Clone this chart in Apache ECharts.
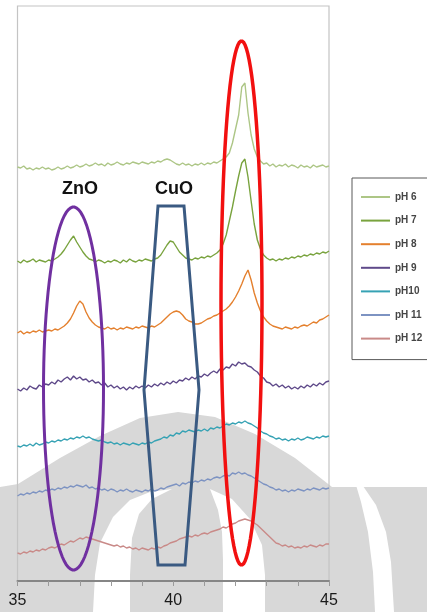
<!DOCTYPE html>
<html>
<head>
<meta charset="utf-8">
<script src="https://cdn.jsdelivr.net/npm/echarts@6/dist/echarts.min.js"></script>
<style>
  html, body { margin: 0; padding: 0; background: #fff; }
  #chart { width: 427px; height: 612px; }
</style>
</head>
<body>
<div id="chart"></div>
<script>
// 2-theta grid (degrees)
const twoTheta = [
  35.0, 35.1, 35.2, 35.3, 35.4, 35.5, 35.6, 35.7, 35.8, 35.9,
  36.0, 36.1, 36.2, 36.3, 36.4, 36.5, 36.6, 36.7, 36.8, 36.9,
  37.0, 37.1, 37.2, 37.3, 37.4, 37.5, 37.6, 37.7, 37.8, 37.9,
  38.0, 38.1, 38.2, 38.3, 38.4, 38.5, 38.6, 38.7, 38.8, 38.9,
  39.0, 39.1, 39.2, 39.3, 39.4, 39.5, 39.6, 39.7, 39.8, 39.9,
  40.0, 40.1, 40.2, 40.3, 40.4, 40.5, 40.6, 40.7, 40.8, 40.9,
  41.0, 41.1, 41.2, 41.3, 41.4, 41.5, 41.6, 41.7, 41.8, 41.9,
  42.0, 42.1, 42.2, 42.3, 42.4, 42.5, 42.6, 42.7, 42.8, 42.9,
  43.0, 43.1, 43.2, 43.3, 43.4, 43.5, 43.6, 43.7, 43.8, 43.9,
  44.0, 44.1, 44.2, 44.3, 44.4, 44.5, 44.6, 44.7, 44.8, 44.9,
  45.0
];

const seriesNames = ['pH 6', 'pH 7', 'pH 8', 'pH 9', 'pH10', 'pH 11', 'pH 12'];
const seriesColors = ['#adc686', '#79a33e', '#e4802e', '#5f4a8a', '#36a2b4', '#7d93c2', '#c98a88'];
const xTickLabels = [35, 40, 45];

// stacked intensities (offset, arbitrary units)
const pH6 = [
  414, 413, 415, 412, 413, 411, 413, 412, 414, 412,
  413, 411, 412, 414, 412, 413, 415, 413, 414, 416,
  414, 415, 417, 415, 416, 418, 416, 417, 415, 418,
  416, 417, 419, 417, 416, 418, 417, 419, 418, 417,
  419, 418, 417, 419, 418, 420, 419, 421, 422, 421,
  419, 417, 416, 418, 416, 417, 415, 417, 416, 418,
  416, 418, 417, 419, 418, 420, 422, 424, 428, 438,
  452, 466, 494, 498, 468, 446, 432, 424, 420, 417,
  418, 415, 417, 414, 416, 415, 417, 414, 416, 415,
  413, 416, 414, 415, 413, 416, 414, 415, 416, 414,
  415
];
const pH7 = [
  320, 318, 321, 319, 320, 322, 319, 321, 320, 319,
  321, 320, 322, 324, 327, 331, 336, 341, 345, 339,
  334, 329, 325, 322, 321, 319, 321, 320, 318, 320,
  319, 321, 320, 318, 321, 319, 322, 320, 319, 321,
  320, 322, 321, 320, 322, 323, 326, 331, 336, 340,
  339, 334, 329, 326, 323, 322, 321, 323, 322, 324,
  323, 325, 324, 326, 328, 331, 337, 346, 360, 374,
  390, 405, 418, 422, 404, 380, 357, 341, 332, 326,
  323, 321, 322, 320, 322, 321, 323, 322, 324, 323,
  325, 324, 326, 325, 327, 326, 328, 327, 329, 328,
  330
];
const pH8 = [
  248, 250, 247, 249, 248, 250, 249, 251, 249, 250,
  251, 250, 252, 251, 253, 255, 258, 262, 268, 275,
  280, 277, 269, 263, 259, 256, 254, 253, 252, 254,
  252, 253, 251, 253, 252, 254, 253, 252, 254, 253,
  255, 254, 253, 255, 254, 256, 258, 261, 264, 267,
  269, 270, 269, 266, 262, 260, 259, 257, 257, 258,
  260, 262, 263, 265, 266, 268, 270, 272, 275, 279,
  284, 290, 297, 305, 311, 301, 288, 278, 270, 264,
  260, 257, 255, 254, 253, 252, 254, 253, 252, 254,
  253, 255, 256, 255, 257, 259, 258, 261, 262, 264,
  266
];
const pH9 = [
  192, 190, 193, 191, 195, 193, 192, 196, 194, 197,
  196, 199, 197, 201, 199, 202, 204, 201, 205, 202,
  204, 201, 202, 199, 201, 198, 199, 196, 198, 194,
  196, 193, 195, 192, 194, 191, 194, 192, 195, 193,
  195, 193, 196, 194, 197, 195, 198, 196, 199, 197,
  200, 198, 201, 200, 203, 201, 204, 202, 205, 204,
  207, 205, 208, 210, 208, 212, 211, 214, 213, 217,
  215, 219, 217, 218, 215, 214, 211, 209, 205, 203,
  199, 198, 195, 197, 194, 196, 193, 195, 192, 194,
  192, 195, 193, 196, 194, 197, 195, 198, 196, 199,
  200
];
const pH10 = [
  135, 134, 136, 135, 137, 135, 138, 136, 137, 139,
  138, 140, 139, 141, 140, 142, 141, 143, 142, 144,
  143, 145, 143, 144, 142, 141, 140, 141, 139, 138,
  139, 137, 138, 136, 138, 137, 136, 138, 137, 136,
  138, 137, 139, 138, 140, 141, 142, 144, 143, 146,
  145, 148, 147, 150, 149, 151, 150, 149, 151, 150,
  152, 150, 153, 152, 154, 153, 155, 157, 156, 158,
  157, 159, 158, 160, 158, 157, 155, 153, 150, 148,
  147, 145, 144, 142, 143, 141, 142, 140, 142, 141,
  143, 141, 142, 144, 143, 142, 144, 143, 145, 144,
  145
];
const pH11 = [
  85, 87, 86, 88, 87, 89, 88, 90, 89, 91,
  90, 92, 91, 93, 92, 94, 93, 95, 94, 96,
  95, 94, 96, 93, 94, 92, 93, 91, 92, 90,
  92, 91, 89, 91, 90, 92, 90, 89, 91, 90,
  89, 91, 90, 92, 90, 91, 93, 92, 94, 95,
  96, 97, 95, 98, 97, 99, 98, 100, 99, 101,
  100, 102, 101, 103, 104, 103, 105, 106, 105, 108,
  107, 109, 107, 108, 106, 105, 103, 101, 99, 97,
  96, 94, 93, 91, 92, 90, 91, 89, 91, 90,
  92, 91, 90, 92, 91, 93, 92, 91, 93, 92,
  93
];
const pH12 = [
  28, 27, 29, 28, 30, 29, 31, 30, 32, 31,
  33, 34, 33, 35, 37, 36, 38, 40, 39, 41,
  43, 42, 44, 43, 42, 41, 40, 39, 38, 37,
  36, 35, 36, 34, 35, 33, 34, 32, 33, 31,
  33, 32, 31, 33, 32, 34, 33, 35, 36, 38,
  39, 40, 42, 43, 44, 45, 44, 46, 45, 47,
  48, 47, 49, 50, 51, 52, 54, 53, 55, 57,
  58, 60, 61, 62, 61, 60, 58, 56, 53, 50,
  47, 44, 41, 38, 37, 35, 36, 34, 35, 33,
  34, 33, 35, 34, 36, 35, 34, 36, 35, 37,
  37
];

const allSeries = [pH6, pH7, pH8, pH9, pH10, pH11, pH12];

// outline points of an ellipse (annotation shapes only)
function ellipsePoints(cx, cy, rx, ry) {
  const pts = [];
  for (let a = 0; a < 360; a += 4) {
    const t = a * Math.PI / 180;
    pts.push([cx + rx * Math.cos(t), cy + ry * Math.sin(t)]);
  }
  return pts;
}

const chart = echarts.init(document.getElementById('chart'));

const series = allSeries.map((vals, k) => ({
  name: seriesNames[k],
  type: 'line',
  data: vals.map((v, i) => [twoTheta[i], v]),
  symbol: 'none',
  showSymbol: false,
  color: seriesColors[k],
  lineStyle: { width: 1.4, color: seriesColors[k] },
  z: 3
}));

const option = {
  animation: false,
  backgroundColor: '#ffffff',
  grid: {
    left: 17.5,
    right: 98,
    top: 6,
    bottom: 31,
    show: true,
    borderColor: '#c4c4c4',
    borderWidth: 1.2
  },
  legend: {
    orient: 'vertical',
    left: 352,
    top: 178,
    icon: 'rect',
    itemWidth: 29,
    itemHeight: 2,
    itemGap: 13.6,
    padding: [14, 60, 16, 9],
    borderColor: '#595959',
    borderWidth: 1,
    data: seriesNames,
    textStyle: {
      fontSize: 10,
      fontFamily: 'Liberation Sans, Arial, sans-serif',
      fontWeight: 'bold',
      color: '#454545'
    }
  },
  xAxis: {
    type: 'value',
    min: 35,
    max: 45,
    interval: 1,
    axisLine: { show: true, lineStyle: { color: '#868686', width: 2 } },
    axisTick: { show: true, length: 5, lineStyle: { color: '#9a9a9a' } },
    splitLine: { show: false },
    axisLabel: {
      margin: 12,
      fontSize: 16,
      fontFamily: 'Liberation Sans, Arial, sans-serif',
      color: '#1a1a1a',
      formatter: function (v) {
        return xTickLabels.indexOf(v) >= 0 ? String(v) : '';
      }
    }
  },
  yAxis: {
    type: 'value',
    min: 0,
    max: 575,
    show: false
  },
  graphic: [
    // background watermark
    {
      type: 'polygon', z: -5, silent: true,
      shape: {
        points: [[0, 487], [18, 484], [60, 458], [100, 436], [140, 418], [178, 412],
                 [215, 417], [255, 434], [295, 458], [332, 487], [427, 487], [427, 612], [0, 612]]
      },
      style: { fill: '#d8d8d8' }
    },
    {
      type: 'polygon', z: -4, silent: true,
      shape: {
        points: [[93, 612], [95, 575], [100, 543], [113, 517], [130, 500], [150, 492], [172, 489],
                 [152, 499], [139, 514], [132, 538], [130, 575], [130, 612]]
      },
      style: { fill: '#ffffff' }
    },
    {
      type: 'polygon', z: -4, silent: true,
      shape: {
        points: [[210, 489], [232, 499], [250, 519], [262, 545], [265, 575], [265, 612],
                 [223, 612], [223, 560], [222, 532], [218, 510]]
      },
      style: { fill: '#ffffff' }
    },
    {
      type: 'polygon', z: -4, silent: true,
      shape: {
        points: [[356, 485], [363, 486], [376, 505], [386, 532], [391, 562], [394, 612],
                 [375, 612], [373, 572], [368, 532], [361, 502]]
      },
      style: { fill: '#ffffff' }
    },
    // annotations
    {
      type: 'polygon', z: 100,
      shape: { points: ellipsePoints(73.5, 388.5, 30, 181.5) },
      style: { fill: null, stroke: '#7030a0', lineWidth: 3 }
    },
    {
      type: 'polygon', z: 100,
      shape: { points: [[158, 206], [184, 206], [199, 390], [185, 565], [158, 565], [144, 390]] },
      style: { fill: null, stroke: '#3a5a82', lineWidth: 3 }
    },
    {
      type: 'polygon', z: 100,
      shape: { points: ellipsePoints(241.5, 303, 20.5, 262) },
      style: { fill: null, stroke: '#f21010', lineWidth: 3.5 }
    },
    {
      type: 'text', z: 100, x: 80, y: 189,
      style: {
        text: 'ZnO', fill: '#111', font: 'bold 18px "Liberation Sans", Arial, sans-serif',
        textAlign: 'center', textVerticalAlign: 'middle'
      }
    },
    {
      type: 'text', z: 100, x: 174, y: 189,
      style: {
        text: 'CuO', fill: '#111', font: 'bold 18px "Liberation Sans", Arial, sans-serif',
        textAlign: 'center', textVerticalAlign: 'middle'
      }
    }
  ],
  series: series
};

chart.setOption(option);
</script>
</body>
</html>
